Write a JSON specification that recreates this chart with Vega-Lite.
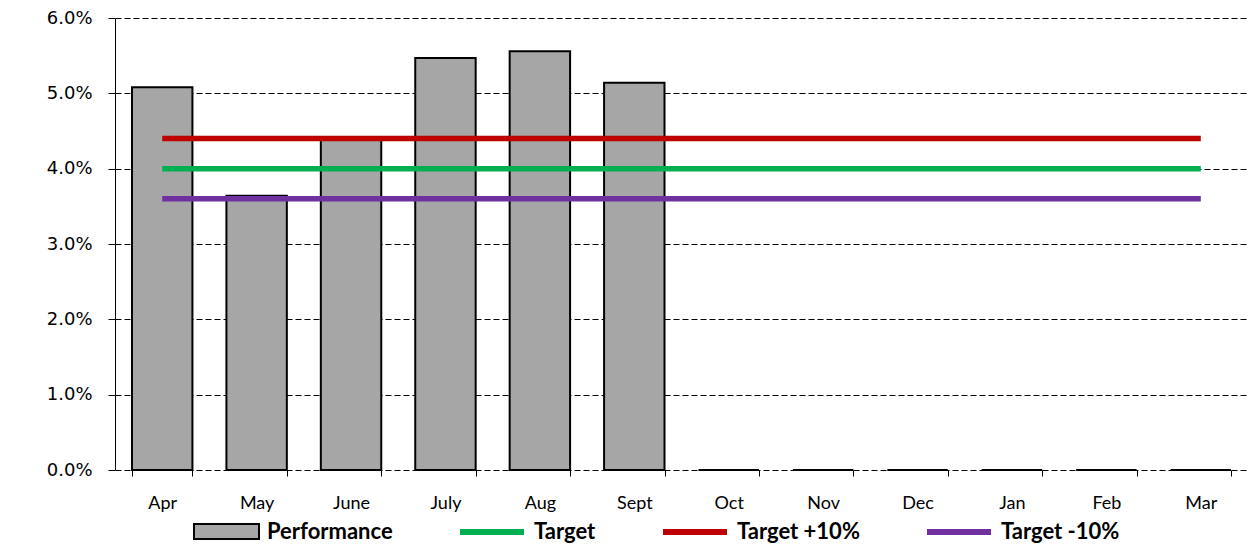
{
  "$schema": "https://vega.github.io/schema/vega-lite/v6.json",
  "width": 1133,
  "height": 452,
  "autosize": "none",
  "padding": {"left": 115, "top": 18, "right": 11, "bottom": 88},
  "background": "white",
  "config": {"view": {"stroke": null}},
  "data": {
    "values": [
      {"month": "Apr", "Performance": 0.0508, "Target": 0.04, "Target +10%": 0.044, "Target -10%": 0.036},
      {"month": "May", "Performance": 0.0364, "Target": 0.04, "Target +10%": 0.044, "Target -10%": 0.036},
      {"month": "June", "Performance": 0.0441, "Target": 0.04, "Target +10%": 0.044, "Target -10%": 0.036},
      {"month": "July", "Performance": 0.0547, "Target": 0.04, "Target +10%": 0.044, "Target -10%": 0.036},
      {"month": "Aug", "Performance": 0.0556, "Target": 0.04, "Target +10%": 0.044, "Target -10%": 0.036},
      {"month": "Sept", "Performance": 0.0514, "Target": 0.04, "Target +10%": 0.044, "Target -10%": 0.036},
      {"month": "Oct", "Performance": 0, "Target": 0.04, "Target +10%": 0.044, "Target -10%": 0.036},
      {"month": "Nov", "Performance": 0, "Target": 0.04, "Target +10%": 0.044, "Target -10%": 0.036},
      {"month": "Dec", "Performance": 0, "Target": 0.04, "Target +10%": 0.044, "Target -10%": 0.036},
      {"month": "Jan", "Performance": 0, "Target": 0.04, "Target +10%": 0.044, "Target -10%": 0.036},
      {"month": "Feb", "Performance": 0, "Target": 0.04, "Target +10%": 0.044, "Target -10%": 0.036},
      {"month": "Mar", "Performance": 0, "Target": 0.04, "Target +10%": 0.044, "Target -10%": 0.036}
    ]
  },
  "layer": [
    {
      "mark": {"type": "bar", "stroke": "black", "strokeWidth": 2},
      "encoding": {
        "x": {
          "field": "month", "type": "nominal", "sort": null,
          "scale": {"paddingInner": 0.36, "paddingOuter": 0.18},
          "axis": {
            "title": null, "tickBand": "extent", "domain": false, "grid": false,
            "tickColor": "black", "tickSize": 6, "labelAngle": 0,
            "labelFont": "Lato", "labelFontSize": 18, "labelColor": "black", "labelPadding": 18
          }
        },
        "y": {
          "field": "Performance", "type": "quantitative",
          "scale": {"domain": [0, 0.06]},
          "axis": {
            "title": null, "format": ".1%", "values": [0, 0.01, 0.02, 0.03, 0.04, 0.05, 0.06],
            "domainColor": "black", "domainWidth": 1, "tickColor": "black", "tickSize": 7,
            "labelFont": "DejaVu Sans", "labelFontSize": 18, "labelColor": "black", "labelPadding": 16,
            "gridColor": "black", "gridDash": [6, 3], "gridOpacity": 1, "gridWidth": 1
          }
        },
        "color": {
          "datum": "Performance", "type": "nominal",
          "scale": {"domain": ["Performance"], "range": ["#a6a6a6"]},
          "legend": {
            "orient": "none", "legendX": 78, "legendY": 480, "direction": "horizontal",
            "title": null, "symbolSize": 4225, "symbolType": "M-1,-0.23H1V0.23H-1Z",
            "symbolStrokeColor": "black", "symbolStrokeWidth": 2, "symbolOpacity": 1,
            "labelFont": "Lato", "labelFontSize": 22, "labelFontWeight": "bold",
            "labelColor": "black", "labelOffset": 7, "padding": 0, "labelLimit": 400
          }
        }
      }
    },
    {
      "transform": [{"fold": ["Target", "Target +10%", "Target -10%"], "as": ["series", "value"]}],
      "mark": {"type": "line", "strokeWidth": 5.5},
      "encoding": {
        "x": {"field": "month", "type": "nominal", "sort": null},
        "y": {"field": "value", "type": "quantitative"},
        "stroke": {
          "field": "series", "type": "nominal",
          "scale": {
            "domain": ["Target", "Target +10%", "Target -10%"],
            "range": ["#00b050", "#c00000", "#7030a0"]
          },
          "legend": {
            "orient": "none", "legendX": 342, "legendY": 479, "direction": "horizontal",
            "title": null, "symbolSize": 4096, "symbolType": "stroke",
            "symbolStrokeWidth": 6, "symbolOpacity": 1,
            "labelFont": "Lato", "labelFontSize": 22, "labelFontWeight": "bold",
            "labelColor": "black", "labelOffset": 7, "columnPadding": 55,
            "padding": 0, "labelLimit": 400
          }
        }
      }
    }
  ]
}
